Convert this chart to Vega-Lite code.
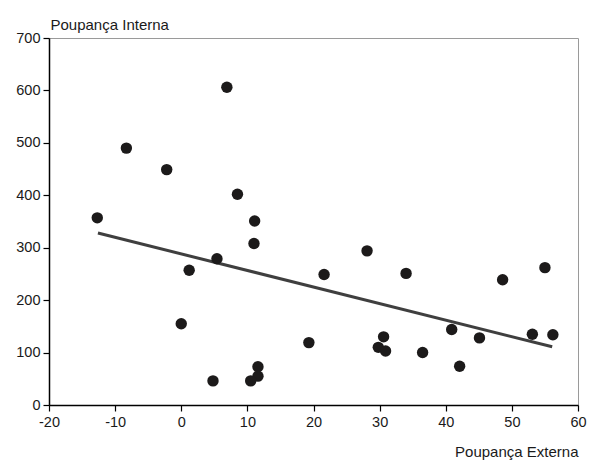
{
  "$schema": "https://vega.github.io/schema/vega-lite/v6.json",
  "width": 529,
  "height": 367,
  "autosize": "none",
  "padding": {"left": 49, "top": 38, "right": 12, "bottom": 55},
  "background": "white",
  "config": {
    "font": "Liberation Sans",
    "view": {"stroke": "#9a9a9a", "strokeWidth": 1},
    "axis": {
      "grid": false,
      "domainColor": "#000000",
      "domainWidth": 1.5,
      "tickColor": "#000000",
      "tickWidth": 1.2,
      "tickSize": 6,
      "labelColor": "#1a1a1a",
      "labelFontSize": 14.5,
      "labelFont": "Liberation Sans",
      "titleFont": "Liberation Sans",
      "titleFontWeight": "normal",
      "titleFontSize": 15,
      "titleColor": "#1a1a1a"
    }
  },
  "datasets": {
    "pts": [
      {"ext": -12.7, "int": 357},
      {"ext": -8.3, "int": 490},
      {"ext": -2.2, "int": 449},
      {"ext": 6.9, "int": 606},
      {"ext": 8.5, "int": 402},
      {"ext": 11.1, "int": 351},
      {"ext": 11.0, "int": 308},
      {"ext": 5.4, "int": 279},
      {"ext": 1.2, "int": 257},
      {"ext": 0.0, "int": 155},
      {"ext": 19.3, "int": 119},
      {"ext": 11.6, "int": 73},
      {"ext": 11.6, "int": 55},
      {"ext": 10.5, "int": 46},
      {"ext": 4.8, "int": 46},
      {"ext": 21.6, "int": 249},
      {"ext": 28.1, "int": 294},
      {"ext": 34.0, "int": 251},
      {"ext": 30.6, "int": 130},
      {"ext": 29.8, "int": 110},
      {"ext": 30.9, "int": 103},
      {"ext": 36.5, "int": 100},
      {"ext": 40.9, "int": 144},
      {"ext": 42.1, "int": 74},
      {"ext": 45.1, "int": 128},
      {"ext": 48.6, "int": 239},
      {"ext": 55.0, "int": 262},
      {"ext": 53.1, "int": 135},
      {"ext": 56.2, "int": 134}
    ],
    "fit": [
      {"ext": -12.6, "int": 328},
      {"ext": 56.1, "int": 111}
    ]
  },
  "layer": [
    {
      "data": {"name": "fit"},
      "mark": {"type": "line", "color": "#3f3f3f", "strokeWidth": 3},
      "encoding": {
        "x": {"field": "ext", "type": "quantitative"},
        "y": {"field": "int", "type": "quantitative"}
      }
    },
    {
      "data": {"name": "pts"},
      "mark": {"type": "point", "filled": true, "color": "#1c1a1a", "opacity": 1, "size": 130},
      "encoding": {
        "x": {
          "field": "ext", "type": "quantitative",
          "scale": {"domain": [-20, 60], "nice": false, "zero": false},
          "axis": {
            "values": [-20, -10, 0, 10, 20, 30, 40, 50, 60],
            "labelExpr": "datum.value < 0 ? '-' + abs(datum.value) : datum.label",
            "title": "Poupança Externa",
            "titleAnchor": "end",
            "titleAlign": "right",
            "titleX": 529,
            "titleY": 51,
            "titleBaseline": "alphabetic",
            "labelPadding": 4,
            "labelFlush": false
          }
        },
        "y": {
          "field": "int", "type": "quantitative",
          "scale": {"domain": [0, 700], "nice": false},
          "axis": {
            "values": [0, 100, 200, 300, 400, 500, 600, 700],
            "title": "Poupança Interna",
            "titleAngle": 0,
            "titleAlign": "left",
            "titleAnchor": "start",
            "titleX": 1,
            "titleY": -8.5,
            "titleBaseline": "alphabetic",
            "labelPadding": 3,
            "labelFlush": false
          }
        }
      }
    }
  ]
}
